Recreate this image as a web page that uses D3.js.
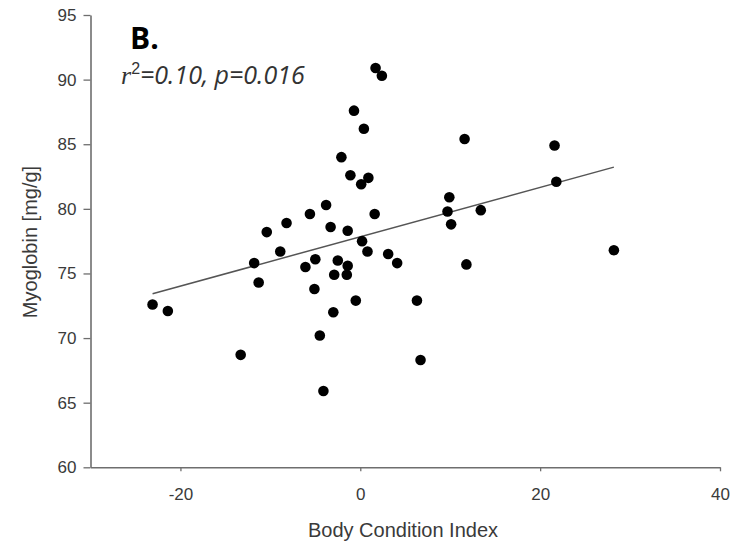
<!DOCTYPE html>
<html>
<head>
<meta charset="utf-8">
<script src="https://cdn.jsdelivr.net/npm/d3@7"></script>
<style>
  html, body { margin: 0; padding: 0; background: #fff; }
  svg { display: block; }
</style>
</head>
<body>
<svg id="chart" width="732" height="546"></svg>
<script>
// Body Condition Index (x) vs Myoglobin [mg/g] (y)
const bci = [
  -23.1, -21.4, -13.3, -11.8, -11.3, -10.4, -8.9, -8.2, -6.1, -5.6,
  -5.0, -5.1, -4.5, -4.1, -3.8, -3.3, -3.0, -2.9, -2.5, -2.1,
  -1.4, -1.4, -1.5, -1.1, -0.7, -0.5, 0.1, 0.2, 0.4, 0.8,
  0.9, 1.6, 1.7, 2.4, 3.1, 4.1, 6.3, 6.7, 9.9, 9.7,
  10.1, 11.8, 13.4, 11.6, 21.6, 21.8, 28.2
];
const myoglobin = [
  72.6, 72.1, 68.7, 75.8, 74.3, 78.2, 76.7, 78.9, 75.5, 79.6,
  76.1, 73.8, 70.2, 65.9, 80.3, 78.6, 72.0, 74.9, 76.0, 84.0,
  78.3, 75.6, 74.9, 82.6, 87.6, 72.9, 81.9, 77.5, 86.2, 76.7,
  82.4, 79.6, 90.9, 90.3, 76.5, 75.8, 72.9, 68.3, 80.9, 79.8,
  78.8, 75.7, 79.9, 85.4, 84.9, 82.1, 76.8
];
const xTicks = [-20, 0, 20, 40];
const yTicks = [60, 65, 70, 75, 80, 85, 90, 95];
const fitIntercept = [77.84];
const fitSlope = [0.191];
const panelLabel = "B.";
const xTitle = "Body Condition Index";
const yTitle = "Myoglobin [mg/g]";

const svg = d3.select("#chart");
const x = d3.scaleLinear().domain([-30, 40]).range([90.5, 720]);
const y = d3.scaleLinear().domain([60, 95]).range([467.3, 15]);

const axisColor = "#6e6e6e";
const labelColor = "#3a3a3a";
const plainFmt = d => String(d);

// Y axis
const yAxis = svg.append("g").attr("transform", `translate(${x(-30)},0)`)
  .call(d3.axisLeft(y).tickValues(yTicks).tickFormat(plainFmt).tickSize(7).tickPadding(7).tickSizeOuter(0));
yAxis.select(".domain").attr("stroke", axisColor).attr("stroke-width", 1.6);
yAxis.selectAll(".tick line").attr("stroke", axisColor).attr("stroke-width", 1.3);
yAxis.selectAll(".tick text")
  .attr("fill", labelColor)
  .style("font-family", "'Liberation Sans', Arial, sans-serif")
  .style("font-size", "17px");

// X axis
const xAxis = svg.append("g").attr("transform", `translate(0,${y(60)})`)
  .call(d3.axisBottom(x).tickValues(xTicks).tickFormat(plainFmt).tickSize(4).tickPadding(17).tickSizeOuter(0));
xAxis.select(".domain").attr("stroke", axisColor).attr("stroke-width", 1.6);
xAxis.selectAll(".tick line").attr("stroke", axisColor).attr("stroke-width", 1.3);
xAxis.selectAll(".tick text")
  .attr("fill", labelColor)
  .style("font-family", "'Liberation Sans', Arial, sans-serif")
  .style("font-size", "17px");

// Regression line over data range
const xMin = d3.min(bci), xMax = d3.max(bci);
svg.append("line")
  .attr("x1", x(xMin)).attr("y1", y(fitIntercept[0] + fitSlope[0] * xMin))
  .attr("x2", x(xMax)).attr("y2", y(fitIntercept[0] + fitSlope[0] * xMax))
  .attr("stroke", "#555").attr("stroke-width", 1.5);

// Points
svg.append("g").selectAll("circle")
  .data(bci.map((v, i) => [v, myoglobin[i]]))
  .join("circle")
  .attr("cx", d => x(d[0]))
  .attr("cy", d => y(d[1]))
  .attr("r", 5.3)
  .attr("fill", "#000");

// Axis titles
svg.append("text")
  .attr("x", 403).attr("y", 537)
  .attr("text-anchor", "middle")
  .attr("fill", labelColor)
  .style("font-family", "'Liberation Sans', Arial, sans-serif")
  .style("font-size", "20px")
  .text(xTitle);

svg.append("text")
  .attr("transform", "translate(37,242) rotate(-90)")
  .attr("text-anchor", "middle")
  .attr("fill", labelColor)
  .style("font-family", "'Liberation Sans', Arial, sans-serif")
  .style("font-size", "20px")
  .text(yTitle);

// Panel label
svg.append("text")
  .attr("x", 130).attr("y", 49)
  .attr("fill", "#000")
  .style("font-family", "'Open Sans', 'Liberation Sans', sans-serif")
  .style("font-weight", "bold")
  .style("font-size", "30px")
  .text(panelLabel);

// Statistics annotation
const stat = svg.append("text")
  .attr("x", 121).attr("y", 84)
  .attr("fill", "#333")
  .style("font-size", "25px")
  .style("font-style", "italic");
stat.append("tspan")
  .style("font-family", "'Liberation Serif', serif")
  .style("font-size", "26px")
  .text("r");
stat.append("tspan")
  .attr("dy", -10)
  .style("font-family", "'Liberation Sans', sans-serif")
  .style("font-style", "normal")
  .style("font-size", "16px")
  .text("2");
stat.append("tspan")
  .attr("dy", 10)
  .style("font-family", "'Open Sans', 'Liberation Sans', sans-serif")
  .text("=0.10, p=0.016");
</script>
</body>
</html>
